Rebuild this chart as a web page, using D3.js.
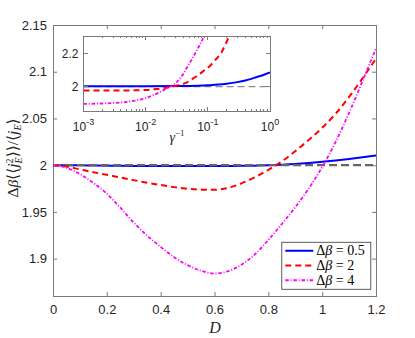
<!DOCTYPE html>
<html>
<head>
<meta charset="utf-8">
<script src="https://cdn.jsdelivr.net/npm/d3@7"></script>
<style>
  body { margin: 0; background: #fff; }
  svg { display: block; }
</style>
</head>
<body>
<div id="canvas"></div>
<script>
// main plot: D on x
const dValues = [0, 0.05, 0.1, 0.15, 0.2, 0.25, 0.3, 0.35, 0.4, 0.45, 0.5, 0.55, 0.6,
    0.65, 0.7, 0.75, 0.8, 0.85, 0.9, 0.95, 1.0, 1.05, 1.1, 1.15, 1.2];
const beta05 = [2.0, 1.9999, 1.9998, 1.9996, 1.9994, 1.9993, 1.9992, 1.9991, 1.999, 1.999, 1.999, 1.999, 1.999,
    1.9991, 1.9993, 1.9995, 1.9998, 2.0004, 2.0012, 2.0023, 2.0036, 2.005, 2.0066, 2.0084, 2.0104];
const beta2 = [2.0, 1.9985, 1.9955, 1.9925, 1.9897, 1.9868, 1.984, 1.9812, 1.9788, 1.9765, 1.9748, 1.9737, 1.9737,
    1.9755, 1.9805, 1.987, 1.995, 2.004, 2.015, 2.027, 2.04, 2.055, 2.073, 2.093, 2.114];
const beta4 = [2.0, 1.9972, 1.9905, 1.981, 1.9695, 1.9545, 1.9385, 1.9245, 1.9125, 1.9015, 1.893, 1.887, 1.884,
    1.8865, 1.8935, 1.9045, 1.92, 1.937, 1.955, 1.975, 1.998, 2.025, 2.056, 2.09, 2.125];
const refLevel = 2;

const xTicks = [0, 0.2, 0.4, 0.6, 0.8, 1, 1.2];
const yTicks = [1.9, 1.95, 2, 2.05, 2.1, 2.15];

// inset: gamma^-1 on a log axis
const gBlue = [0.001, 0.01, 0.03, 0.05, 0.1, 0.15, 0.2, 0.3, 0.4, 0.5, 0.6, 0.8, 1];
const insetBlue = [2.002, 2.002, 2.003, 2.004, 2.008, 2.012, 2.017, 2.027, 2.037, 2.047, 2.057, 2.072, 2.086];
const gRed = [0.001, 0.002, 0.005, 0.01, 0.015, 0.02, 0.025, 0.03, 0.04, 0.05, 0.058, 0.07, 0.085, 0.107,
    0.13, 0.166, 0.19, 0.214, 0.225];
const insetRed = [1.975, 1.975, 1.976, 1.979, 1.985, 1.991, 1.998, 2.004, 2.016, 2.033, 2.05, 2.07, 2.095, 2.125,
    2.16, 2.21, 2.255, 2.3, 2.325];
const gMag = [0.001, 0.002, 0.003, 0.005, 0.007, 0.01, 0.013, 0.017, 0.02, 0.025, 0.03, 0.035, 0.04, 0.046,
    0.055, 0.066, 0.075, 0.084, 0.088];
const insetMag = [1.894, 1.896, 1.899, 1.906, 1.915, 1.929, 1.946, 1.966, 1.981, 2.0, 2.02, 2.045, 2.075, 2.115,
    2.165, 2.22, 2.26, 2.3, 2.33];
const insetXTicks = [0.001, 0.01, 0.1, 1];
const insetYTicks = [2, 2.2];

const legendLabels = ["0.5", "2", "4"];
const colors = ["#0000ff", "#ff0000", "#ff00ff"];
const dashes = [null, "6,4", "3.5,1.8,1,1.8"];

const W = 415, H = 338;
const margin = { top: 25, right: 39, bottom: 42, left: 53 };
const width = W - margin.left - margin.right;
const height = H - margin.top - margin.bottom;
const axisColor = "#7a7a7a";
const textColor = "#262626";
const sans = "'Liberation Sans', Arial, sans-serif";
const serif = "'Liberation Serif', 'DejaVu Serif', serif";

const svg = d3.select("#canvas").append("svg")
    .attr("width", W)
    .attr("height", H);

const g = svg.append("g")
    .attr("transform", `translate(${margin.left}, ${margin.top})`);

const x = d3.scaleLinear().domain([0, 1.2]).range([0, width]);
const y = d3.scaleLinear().domain([1.86, 2.15]).range([height, 0]);

svg.append("defs").append("clipPath").attr("id", "mainClip")
    .append("rect").attr("width", width).attr("height", height);

// axes with inward ticks on all four sides
function styleAxis(sel) {
    sel.select(".domain").remove();
    sel.selectAll(".tick line").attr("stroke", axisColor);
    sel.selectAll(".tick text").attr("fill", textColor).style("font-family", sans).style("font-size", "13px");
}

g.append("g").attr("transform", `translate(0, ${height})`)
    .call(d3.axisBottom(x).tickValues(xTicks).tickSizeInner(-4).tickSizeOuter(0).tickPadding(9)
        .tickFormat(d3.format("")))
    .call(styleAxis);
g.append("g")
    .call(d3.axisTop(x).tickValues(xTicks).tickSizeInner(-4).tickSizeOuter(0).tickFormat(""))
    .call(styleAxis);
g.append("g")
    .call(d3.axisLeft(y).tickValues(yTicks).tickSizeInner(-4).tickSizeOuter(0).tickPadding(6)
        .tickFormat(d3.format("")))
    .call(styleAxis);
g.append("g").attr("transform", `translate(${width}, 0)`)
    .call(d3.axisRight(y).tickValues(yTicks).tickSizeInner(-4).tickSizeOuter(0).tickFormat(""))
    .call(styleAxis);

g.append("rect")
    .attr("width", width).attr("height", height)
    .attr("fill", "none").attr("stroke", axisColor)
    .attr("shape-rendering", "crispEdges");

// curves
const plot = g.append("g").attr("clip-path", "url(#mainClip)");
const mainLine = vals => d3.line()
    .x((d, i) => x(dValues[i]))
    .y(d => y(d))
    .curve(d3.curveMonotoneX)(vals);

plot.append("path").attr("d", mainLine(beta05))
    .attr("fill", "none").attr("stroke", colors[0]).attr("stroke-width", 2);
plot.append("line")
    .attr("x1", 0).attr("x2", width).attr("y1", y(refLevel)).attr("y2", y(refLevel))
    .attr("stroke", "#666").attr("stroke-width", 2.2).attr("stroke-dasharray", "8,4");
plot.append("path").attr("d", mainLine(beta2))
    .attr("fill", "none").attr("stroke", colors[1]).attr("stroke-width", 2).attr("stroke-dasharray", dashes[1]);
plot.append("path").attr("d", mainLine(beta4))
    .attr("fill", "none").attr("stroke", colors[2]).attr("stroke-width", 1.8).attr("stroke-dasharray", dashes[2]);

// axis labels
svg.append("text")
    .attr("x", 215).attr("y", 333)
    .attr("text-anchor", "middle")
    .style("font-family", serif).style("font-style", "italic").style("font-size", "16px")
    .attr("fill", textColor)
    .text("D");

const yl = svg.append("text")
    .attr("transform", "translate(18, 158) rotate(-90)")
    .attr("text-anchor", "middle")
    .style("font-family", serif).style("font-size", "15.5px")
    .attr("fill", textColor);
yl.append("tspan").text("Δ");
yl.append("tspan").style("font-style", "italic").text("β");
yl.append("tspan").text("⟨⟨");
yl.append("tspan").style("font-style", "italic").text("j");
yl.append("tspan").attr("dy", -5).style("font-size", "10px").text("2");
yl.append("tspan").attr("dx", -5).attr("dy", 9).style("font-size", "10px").style("font-style", "italic").text("E");
yl.append("tspan").attr("dy", -4).text("⟩⟩/⟨");
yl.append("tspan").style("font-style", "italic").text("j");
yl.append("tspan").attr("dy", 3).style("font-size", "10px").style("font-style", "italic").text("E");
yl.append("tspan").attr("dy", -3).text("⟩");

// legend
const legend = g.append("g").attr("transform", `translate(${x(0.85)}, ${y(1.9175)})`);
legend.append("rect")
    .attr("width", 89).attr("height", 47)
    .attr("fill", "#fff").attr("stroke", "#333").attr("stroke-width", 0.8);
legendLabels.forEach((lab, i) => {
    const ly = 8.5 + i * 14.8;
    legend.append("line")
        .attr("x1", 3.5).attr("x2", 31.5).attr("y1", ly).attr("y2", ly)
        .attr("stroke", colors[i]).attr("stroke-width", 2)
        .attr("stroke-dasharray", dashes[i]);
    const t = legend.append("text")
        .attr("x", 34.5).attr("y", ly + 4.5)
        .style("font-family", serif).style("font-size", "14px")
        .attr("fill", "#000");
    t.append("tspan").text("Δ");
    t.append("tspan").style("font-style", "italic").text("β");
    t.append("tspan").text(" = " + lab);
});

// inset
const inset = { left: 83.5, top: 36, right: 270, bottom: 111 };
const iw = inset.right - inset.left, ih = inset.bottom - inset.top;
const ig = svg.append("g").attr("transform", `translate(${inset.left}, ${inset.top})`);
const ix = d3.scaleLog().domain([0.001, 1]).range([0, iw]);
const iy = d3.scaleLinear().domain([1.85, 2.31]).range([ih, 0]);

ig.append("rect").attr("width", iw).attr("height", ih).attr("fill", "#fff");
svg.select("defs").append("clipPath").attr("id", "insetClip")
    .append("rect").attr("width", iw).attr("height", ih);

const minorTicks = [];
[0.001, 0.01, 0.1].forEach(dec => {
    for (let k = 2; k <= 9; k++) minorTicks.push(dec * k);
});

const insetPlot = ig.append("g").attr("clip-path", "url(#insetClip)");
insetPlot.append("line")
    .attr("x1", 0).attr("x2", iw).attr("y1", iy(refLevel)).attr("y2", iy(refLevel))
    .attr("stroke", "#8c8c8c").attr("stroke-width", 1.2).attr("stroke-dasharray", "7,4");
const insetLine = (xs, ys) => d3.line()
    .x((d, i) => ix(xs[i]))
    .y(d => iy(d))
    .curve(d3.curveMonotoneX)(ys);
insetPlot.append("path").attr("d", insetLine(gBlue, insetBlue))
    .attr("fill", "none").attr("stroke", colors[0]).attr("stroke-width", 2);
insetPlot.append("path").attr("d", insetLine(gRed, insetRed))
    .attr("fill", "none").attr("stroke", colors[1]).attr("stroke-width", 2).attr("stroke-dasharray", dashes[1]);
insetPlot.append("path").attr("d", insetLine(gMag, insetMag))
    .attr("fill", "none").attr("stroke", colors[2]).attr("stroke-width", 1.8).attr("stroke-dasharray", dashes[2]);

// inset ticks
const itick = ig.append("g").attr("stroke", axisColor).attr("shape-rendering", "crispEdges");
insetXTicks.forEach(t => {
    itick.append("line").attr("x1", ix(t)).attr("x2", ix(t)).attr("y1", ih).attr("y2", ih - 4);
    itick.append("line").attr("x1", ix(t)).attr("x2", ix(t)).attr("y1", 0).attr("y2", 4);
});
minorTicks.forEach(t => {
    itick.append("line").attr("x1", ix(t)).attr("x2", ix(t)).attr("y1", ih).attr("y2", ih - 2);
    itick.append("line").attr("x1", ix(t)).attr("x2", ix(t)).attr("y1", 0).attr("y2", 2);
});
insetYTicks.forEach(t => {
    itick.append("line").attr("x1", 0).attr("x2", 4).attr("y1", iy(t)).attr("y2", iy(t));
    itick.append("line").attr("x1", iw).attr("x2", iw - 4).attr("y1", iy(t)).attr("y2", iy(t));
});
ig.append("rect").attr("width", iw).attr("height", ih)
    .attr("fill", "none").attr("stroke", axisColor).attr("shape-rendering", "crispEdges");

insetXTicks.forEach(t => {
    const lt = ig.append("text")
        .attr("x", ix(t)).attr("y", ih + 20)
        .attr("text-anchor", "middle")
        .style("font-family", sans).style("font-size", "12px")
        .attr("fill", textColor);
    lt.append("tspan").text("10");
    lt.append("tspan").attr("dy", -6).style("font-size", "9px").text(String(Math.round(Math.log10(t))));
});
insetYTicks.forEach(t => {
    ig.append("text")
        .attr("x", -5).attr("y", iy(t) + 4.5)
        .attr("text-anchor", "end")
        .style("font-family", sans).style("font-size", "12px")
        .attr("fill", textColor)
        .text(d3.format("")(t));
});

const gl = svg.append("text")
    .attr("x", 177).attr("y", 142)
    .attr("text-anchor", "middle")
    .style("font-family", serif).style("font-size", "14px")
    .attr("fill", textColor);
gl.append("tspan").style("font-style", "italic").text("γ");
gl.append("tspan").attr("dy", -6).style("font-size", "9px").text("−1");
</script>
</body>
</html>
